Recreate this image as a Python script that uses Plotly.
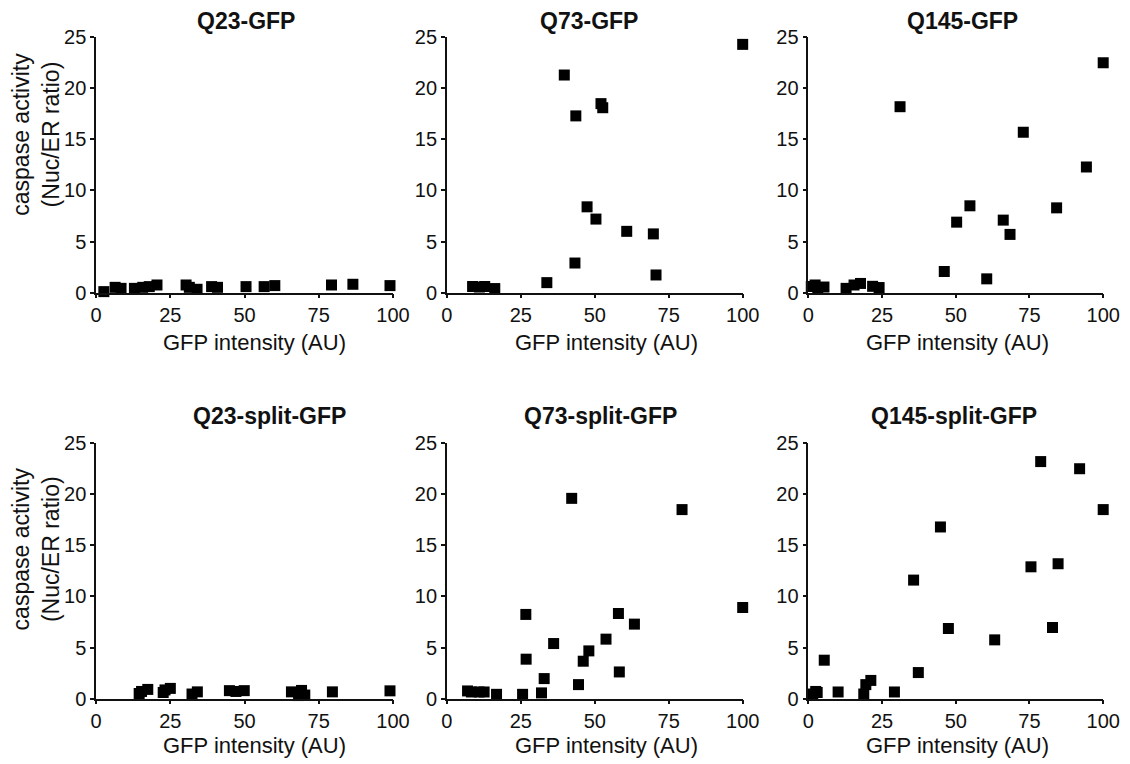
import plotly.graph_objects as go

W, H = 1130, 764

titles = ["Q23-GFP", "Q73-GFP", "Q145-GFP",
          "Q23-split-GFP", "Q73-split-GFP", "Q145-split-GFP"]

q23_x = [2.6, 6.4, 8.4, 12.9, 15.7, 17.9, 20.5, 30.3, 31.4, 34.0, 38.9, 40.9, 50.5, 56.6, 60.2, 79.3, 86.5, 99.0]
q23_y = [0.1, 0.52, 0.42, 0.42, 0.52, 0.59, 0.75, 0.75, 0.52, 0.33, 0.59, 0.52, 0.59, 0.59, 0.69, 0.75, 0.82, 0.69]

q73_x = [8.7, 11.0, 12.8, 16.2, 33.8, 39.7, 43.3, 43.6, 47.4, 50.4, 52.1, 52.7, 60.8, 69.8, 70.7, 100]
q73_y = [0.6, 0.55, 0.6, 0.4, 0.98, 21.3, 2.9, 17.3, 8.4, 7.2, 18.5, 18.1, 6.0, 5.75, 1.73, 24.3]

q145_x = [1.0, 2.3, 3.2, 5.3, 12.8, 15.5, 17.7, 21.8, 24.0, 31.1, 46.1, 50.3, 54.8, 60.5, 66.1, 68.4, 72.9, 84.2, 94.3, 100]
q145_y = [0.6, 0.75, 0.45, 0.55, 0.42, 0.75, 0.9, 0.62, 0.5, 18.2, 2.07, 6.9, 8.5, 1.35, 7.1, 5.7, 15.7, 8.3, 12.3, 22.5]

q23s_x = [14.5, 15.3, 17.4, 22.6, 23.2, 25.0, 32.3, 34.1, 44.9, 47.1, 49.9, 65.8, 68.2, 69.2, 70.3, 79.6, 99.0]
q23s_y = [0.5, 0.7, 0.9, 0.6, 0.85, 1.0, 0.45, 0.66, 0.78, 0.7, 0.78, 0.66, 0.3, 0.8, 0.35, 0.66, 0.76]

q73s_x = [7.0, 8.3, 10.9, 12.6, 16.8, 25.6, 26.7, 26.8, 32.0, 32.9, 36.1, 42.2, 44.5, 46.1, 48.0, 53.8, 58.0, 58.3, 63.4, 79.5, 100]
q73s_y = [0.75, 0.65, 0.65, 0.65, 0.42, 0.42, 8.24, 3.86, 0.56, 1.96, 5.39, 19.6, 1.37, 3.66, 4.67, 5.82, 8.33, 2.61, 7.29, 18.5, 8.92]

q145s_x = [1.5, 2.5, 3.0, 5.4, 10.1, 18.8, 19.5, 21.2, 29.2, 35.7, 37.3, 44.8, 47.5, 63.2, 75.5, 78.8, 82.8, 84.7, 92.0, 100]
q145s_y = [0.45, 0.7, 0.6, 3.76, 0.65, 0.45, 1.37, 1.78, 0.65, 11.6, 2.55, 16.8, 6.86, 5.75, 12.9, 23.2, 6.96, 13.2, 22.5, 18.5]

x_ticks = [0, 25, 50, 75, 100]
y_ticks = [0, 5, 10, 15, 20, 25]
x_label = "GFP intensity (AU)"
y_label = "caspase activity<br>(Nuc/ER ratio)"

series = [(q23_x, q23_y), (q73_x, q73_y), (q145_x, q145_y),
          (q23s_x, q23s_y), (q73s_x, q73s_y), (q145s_x, q145s_y)]

# layout geometry in page pixels
col_px = [(92, 395), (450, 752), (819, 1120)]
row_px = [(27, 290), (445, 708)]  # (top of axis, bottom of axis)
title_pos = [(245, 10), (595, 10), (976, 10), (269, 417), (607, 417), (968, 417)]
xtitle_cx = [254, 613, 971]
xtitle_cy = [341, 756]
ytitle_pos = [(31, 127), (31, 554)]

FONT = "Liberation Sans, Arial, sans-serif"
INK = "#111111"
TICK_SIZE = 20
LABEL_SIZE = 22
TITLE_SIZE = 23

fig = go.Figure()
layout = dict(width=W, height=H, margin=dict(l=0, r=0, t=0, b=0),
              paper_bgcolor="white", plot_bgcolor="white", showlegend=False,
              font=dict(family=FONT, color=INK, size=TICK_SIZE))
annotations = []

for i, (xs, ys) in enumerate(series):
    r, c = divmod(i, 3)
    n = "" if i == 0 else str(i + 1)
    fig.add_trace(go.Scatter(
        x=xs, y=ys, mode="markers", xaxis="x" + n, yaxis="y" + n,
        marker=dict(symbol="square", size=11, color="black", line=dict(width=0)),
        cliponaxis=False, hoverinfo="x+y"))
    x0, x1 = col_px[c]
    yt, yb = row_px[r]
    common = dict(showline=True, linecolor=INK, linewidth=1.6, ticks="outside",
                  ticklen=4, tickwidth=1.6, tickcolor=INK, showgrid=False,
                  zeroline=False, tickfont=dict(family=FONT, size=TICK_SIZE, color=INK))
    layout["xaxis" + n] = dict(domain=[x0 / W, x1 / W], range=[0, 100],
                               tickmode="array", tickvals=x_ticks,
                               anchor="y" + n, **common)
    layout["yaxis" + n] = dict(domain=[1 - yb / H, 1 - yt / H], range=[0, 25],
                               tickmode="array", tickvals=y_ticks,
                               anchor="x" + n, **common)
    tx, ty = title_pos[i]
    annotations.append(dict(text="<b>" + titles[i] + "</b>", x=tx / W, y=1 - ty / H,
                            xref="paper", yref="paper", showarrow=False,
                            xanchor="center", yanchor="middle",
                            font=dict(family=FONT, size=TITLE_SIZE, color=INK)))
    annotations.append(dict(text=x_label, x=xtitle_cx[c] / W, y=1 - xtitle_cy[r] / H,
                            xref="paper", yref="paper", showarrow=False,
                            xanchor="center", yanchor="middle",
                            font=dict(family=FONT, size=LABEL_SIZE, color=INK)))

for (px, py) in ytitle_pos:
    annotations.append(dict(text=y_label, x=px / W, y=1 - py / H,
                            xref="paper", yref="paper", showarrow=False,
                            textangle=-90, xanchor="center", yanchor="middle",
                            font=dict(family=FONT, size=LABEL_SIZE + 1, color=INK)))

layout["annotations"] = annotations
fig.update_layout(**layout)
fig.write_html("out.html", config={"displayModeBar": False},
               post_script="document.body.style.margin='0';document.body.style.overflow='hidden';")
